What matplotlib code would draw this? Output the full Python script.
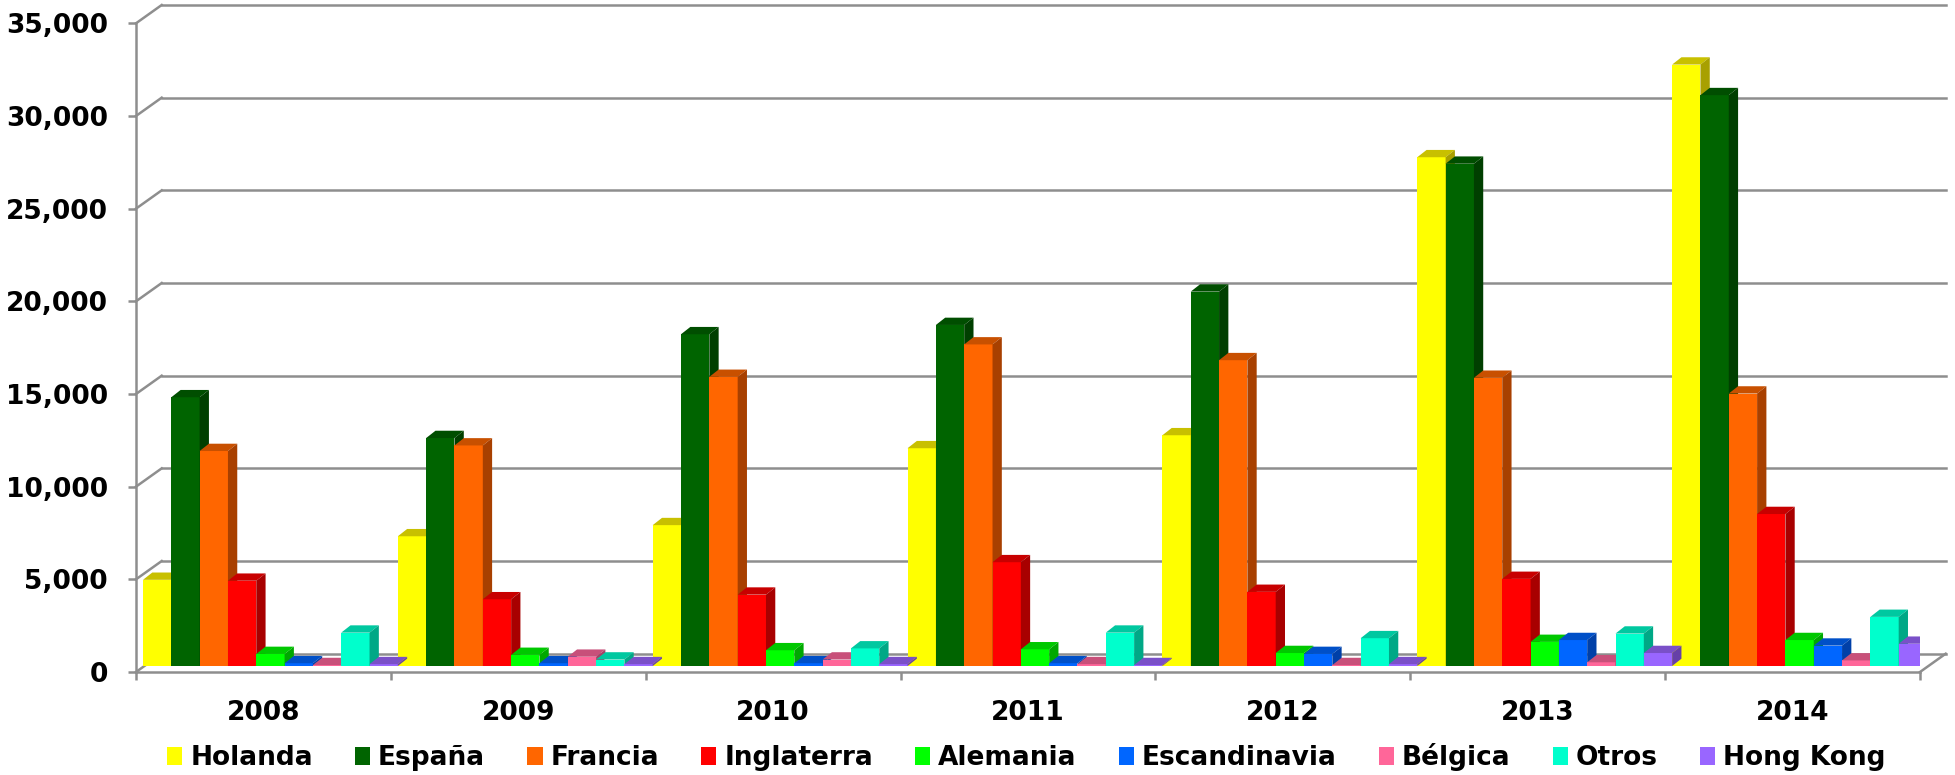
import matplotlib
matplotlib.use("Agg")
import matplotlib.pyplot as plt
from matplotlib.patches import Polygon, Patch
from matplotlib.ticker import FuncFormatter
import numpy as np

# ---------------- data ----------------
years = ["2008", "2009", "2010", "2011", "2012", "2013", "2014"]
series_names = ["Holanda", "España", "Francia", "Inglaterra", "Alemania",
                "Escandinavia", "Bélgica", "Otros", "Hong Kong"]
holanda      = [4650, 7000, 7600, 11750, 12450, 27450, 32450]
espana       = [14500, 12300, 17900, 18400, 20200, 27100, 30800]
francia      = [11600, 11900, 15600, 17350, 16500, 15550, 14700]
inglaterra   = [4600, 3600, 3850, 5600, 4000, 4700, 8200]
alemania     = [650, 600, 850, 900, 700, 1300, 1400]
escandinavia = [150, 150, 150, 150, 650, 1400, 1100]
belgica      = [50, 500, 350, 100, 50, 200, 300]
otros        = [1800, 350, 950, 1800, 1500, 1750, 2650]
hong_kong    = [100, 100, 100, 50, 100, 700, 1200]
series_values = [holanda, espana, francia, inglaterra, alemania,
                 escandinavia, belgica, otros, hong_kong]
y_ticks = list(range(0, 35001, 5000))

# colours: front, top, side
front_c = ["#FFFF00", "#006400", "#FF6600", "#FF0000", "#00FF00",
           "#0066FF", "#FF6699", "#00FFCC", "#9966FF"]
top_c   = ["#C8C000", "#004E00", "#C85000", "#C80000", "#00C800",
           "#0050C8", "#C8507A", "#00C8A0", "#7A50C8"]
side_c  = ["#A8A000", "#003F00", "#A84000", "#A80000", "#00A800",
           "#0040A8", "#A84066", "#00A886", "#6640A8"]

plt.rcParams["font.family"] = ["DejaVu Sans"]
plt.rcParams["font.weight"] = "bold"

W, H = 1955, 775
fig = plt.figure(figsize=(W / 100, H / 100), dpi=100)
fig.patch.set_facecolor("white")

x0px, x1px = 136, 1920
y0px, ytpx = 672, 23.3
ax = fig.add_axes([x0px / W, 1 - y0px / H, (x1px - x0px) / W, (y0px - ytpx) / H])
ncat = len(years)
ax.set_xlim(0, ncat)
ax.set_ylim(0, 35000)
ax.patch.set_visible(False)

px_x = ncat / (x1px - x0px)
px_y = 35000 / (y0px - ytpx)

grid_c = "#8E8E8E"
lw_g = 1.8

# walls (3D depth)
dxw, dyw = 25.7 * px_x, 18.3 * px_y
for v in y_ticks:
    ax.plot([0, dxw], [v, v + dyw], color=grid_c, lw=lw_g, clip_on=False, zorder=1)
    ax.plot([dxw, ncat + dxw], [v + dyw, v + dyw], color=grid_c, lw=lw_g,
            clip_on=False, zorder=1)
ax.plot([ncat, ncat + dxw], [0, dyw], color=grid_c, lw=lw_g, clip_on=False, zorder=1)

# bars
bw = 1.0 / len(series_names)
dxf, dyf = 7.0 * px_x, 6.0 * px_y
dxb, dyb = 9.3 * px_x, 7.3 * px_y
cats = np.arange(ncat)
for s, vals in enumerate(series_values):
    z = 3 + s
    lefts = cats + dxf + s * bw
    ax.bar(lefts, vals, width=bw, bottom=dyf, align="edge", color=front_c[s],
           edgecolor="none", zorder=z)
    for xl, v in zip(lefts, vals):
        xr = xl + bw
        top = dyf + v
        ax.add_patch(Polygon([(xl, top), (xl + dxb, top + dyb), (xr + dxb, top + dyb), (xr, top)],
                             closed=True, facecolor=top_c[s], edgecolor="none", zorder=z))
        ax.add_patch(Polygon([(xr, dyf), (xr + dxb, dyf + dyb), (xr + dxb, top + dyb), (xr, top)],
                             closed=True, facecolor=side_c[s], edgecolor="none", zorder=z))

# axes / spines
for sp in ["top", "right"]:
    ax.spines[sp].set_visible(False)
for sp in ["left", "bottom"]:
    ax.spines[sp].set_color(grid_c)
    ax.spines[sp].set_linewidth(lw_g)
    ax.spines[sp].set_zorder(2)

ax.set_yticks(y_ticks)
ax.yaxis.set_major_formatter(FuncFormatter(lambda v, p: f"{int(v):,}"))
ax.tick_params(axis="y", length=5.8, width=lw_g, color=grid_c, pad=14.4,
               labelsize=19, labelcolor="black")
ax.set_xticks(cats + 0.5)
ax.set_xticklabels(years)
ax.set_xticks(np.arange(ncat + 1), minor=True)
ax.tick_params(axis="x", which="major", length=0, pad=20, labelsize=19)
ax.tick_params(axis="x", which="minor", length=5.8, width=lw_g, color=grid_c)
for lab in ax.get_xticklabels() + ax.get_yticklabels():
    lab.set_fontweight("bold")

handles = [Patch(facecolor=front_c[s], edgecolor="none") for s in range(len(series_names))]
fig.legend(handles, series_names, loc="center", bbox_to_anchor=(0.525, 1 - 757 / H),
           ncol=len(series_names), frameon=False,
           prop={"size": 19, "weight": "bold"},
           handlelength=0.57, handleheight=0.68, handletextpad=0.3,
           columnspacing=1.6, borderpad=0)

fig.savefig("out.png", dpi=100, facecolor="white")
